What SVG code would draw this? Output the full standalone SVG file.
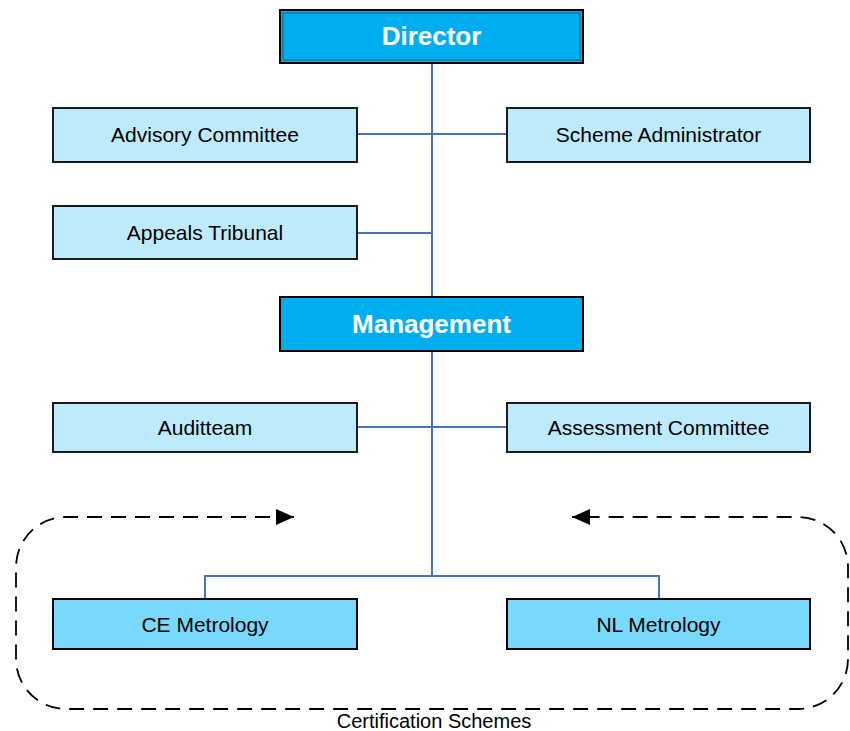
<svg xmlns="http://www.w3.org/2000/svg" width="850" height="731" viewBox="0 0 850 731">
<defs>
<style>
.main{fill:#00AEEF;stroke:#000;stroke-width:2}
.sub{fill:#BDEBFC;stroke:#1a1a1a;stroke-width:2}
.scheme{fill:#78D9FD;stroke:#000;stroke-width:2}
.tw{font-family:"Liberation Sans",Arial,sans-serif;font-size:26px;font-weight:bold;fill:#fff;text-anchor:middle}
.tb{font-family:"Liberation Sans",Arial,sans-serif;font-size:21px;fill:#000;text-anchor:middle}
.conn{stroke:#4472C4;stroke-width:2;fill:none}
.dash{stroke:#000;stroke-width:1.8;fill:none;stroke-dasharray:15,9}
</style>
<marker id="arr" viewBox="0 0 18 16" refX="18" refY="8" markerWidth="18" markerHeight="16" markerUnits="userSpaceOnUse" orient="auto-start-reverse">
<path d="M0,0 L18,8 L0,16 Z" fill="#000"/>
</marker>
</defs>
<rect width="850" height="731" fill="#fff"/>
<g id="connectors">
<path class="conn" d="M432,63 V297 M432,351 V576 M357,134 H507 M357,233 H432 M357,427 H507 M205,599 V576 H659 V599"/>
<path class="dash" marker-start="url(#arr)" marker-end="url(#arr)" d="M294,517 H66 A50,50 0 0 0 16,567 V659 A50,50 0 0 0 66,709 H798 A50,50 0 0 0 848,659 V567 A50,50 0 0 0 798,517 H572"/>
</g>
<g id="director">
<rect class="main" x="280" y="10" width="303" height="53"/>
<rect x="283" y="13" width="297" height="47" fill="none" stroke="#1f5c7a" stroke-width="1"/>
<text class="tw" x="431.5" y="44.5">Director</text>
</g>
<g id="advisory">
<rect class="sub" x="53" y="108" width="304" height="54"/>
<text class="tb" x="205" y="141.5">Advisory Committee</text>
</g>
<g id="scheme-admin">
<rect class="sub" x="507" y="108" width="303" height="54"/>
<text class="tb" x="658.5" y="141.5">Scheme Administrator</text>
</g>
<g id="appeals">
<rect class="sub" x="53" y="206" width="304" height="53"/>
<text class="tb" x="205" y="240">Appeals Tribunal</text>
</g>
<g id="management">
<rect class="main" x="280" y="297" width="303" height="54"/>
<text class="tw" x="431.5" y="332.5">Management</text>
</g>
<g id="auditteam">
<rect class="sub" x="53" y="403" width="304" height="49"/>
<text class="tb" x="205" y="435">Auditteam</text>
</g>
<g id="assessment">
<rect class="sub" x="507" y="403" width="303" height="49"/>
<text class="tb" x="658.5" y="435">Assessment Committee</text>
</g>
<g id="ce-metrology">
<rect class="scheme" x="53" y="599" width="304" height="50"/>
<text class="tb" x="205" y="632">CE Metrology</text>
</g>
<g id="nl-metrology">
<rect class="scheme" x="507" y="599" width="303" height="50"/>
<text class="tb" x="658.5" y="632">NL Metrology</text>
</g>
<g id="cert-label">
<text class="tb" x="434" y="728" style="font-size:20px">Certification Schemes</text>
</g>
</svg>
